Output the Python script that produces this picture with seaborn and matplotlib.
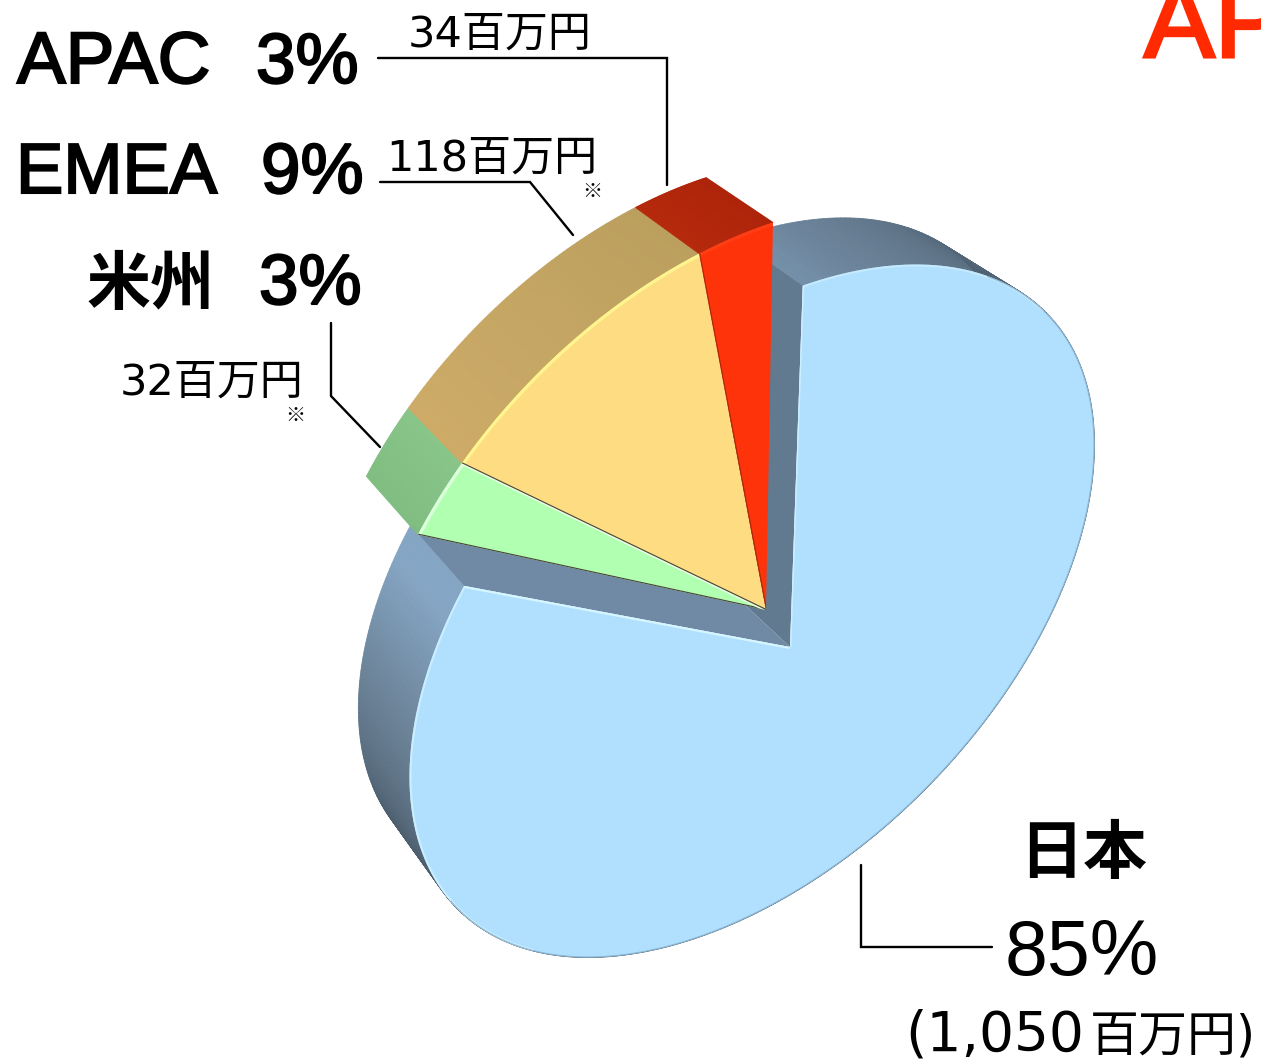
import numpy as np
import seaborn as sns
import matplotlib.pyplot as plt
import matplotlib.patheffects as pe
from matplotlib.colors import to_rgb
from matplotlib.patches import Polygon

# chart values (million yen)
regions = ["日本", "米州", "EMEA", "APAC"]
amounts = [1050, 32, 118, 34]
pct_labels = ["85%", "3%", "9%", "3%"]
amount_labels = ["(1,050百万円)", "32百万円", "118百万円", "34百万円"]

TOP_COLORS = sns.color_palette(["#b1dffe", "#b1ffb1", "#fedc82", "#ff330a"])
CJK = ["DejaVu Sans", "Noto Sans CJK JP"]
LATIN = ["Liberation Sans", "Noto Sans CJK JP"]

# ellipse of the top face in picture pixels, shape matrix from its extents
SHAPE = np.array([[117306.0, -56855.0], [-56855.0, 120062.0]])
L = np.linalg.cholesky(SHAPE)
JAPAN_CENTER = np.array([752.0, 611.0])
JAPAN_APEX = np.array([790.0, 647.0])
JAPAN_CORNER = np.array([803.0, 279.0])
SLICE_CENTER = np.array([712.0, 555.0])
SLICE_SCALE = 1.012
SLICE_APEX = np.array([766.0, 610.0])
SLICE_CORNER = np.array([773.0, 222.0])
SLICE_SWEEP = 0.94  # foreshortening of the exploded slices
VANISH = np.array([-780.0, -820.0])
DEPTH = 0.957


def boost(pts, p):
    # projective map of the unit disc, sends the disc center to p
    size = np.hypot(*p)
    if size < 1e-9:
        return pts
    hat = p / size
    along = pts @ hat
    perp = pts - np.outer(along, hat)
    gamma = 1 / np.sqrt(1 - size**2)
    return (np.outer(along + size, hat) + perp / gamma) / (1 + size * along)[:, None]


class Disc:
    def __init__(self, center, scale, apex, corner):
        self.center = center
        self.basis = L * scale
        self.inv = np.linalg.inv(self.basis)
        self.p = self.inv @ (apex - center)
        self.apex = apex
        c = self.to_disc(corner)
        self.start = np.arctan2(c[1], c[0])

    def to_disc(self, pt):
        u = (self.inv @ (pt - self.center))[None, :]
        return boost(u, -self.p)[0]

    def arc(self, a, b, n=120):
        # a, b are pie fractions measured from this disc's start corner
        t = self.start + 2 * np.pi * np.linspace(a, b, n)
        u = boost(np.column_stack([np.cos(t), np.sin(t)]), self.p)
        return u @ self.basis.T + self.center


def extrude(pts):
    return VANISH + DEPTH * (pts - VANISH)


def blend(a, b, w):
    return tuple((1 - w) * np.array(to_rgb(a)) + w * np.array(to_rgb(b)))


def strips(ax, front, colors, zorder):
    back = extrude(front)
    for i in range(len(front) - 1):
        quad = [front[i], front[i + 1], back[i + 1], back[i]]
        ax.add_patch(Polygon(quad, closed=True, fc=colors[i], ec=colors[i], lw=0.6, zorder=zorder))


def face(ax, arc, apex, color, zorder):
    patch = Polygon(np.vstack([apex, arc]), closed=True, fc=color, ec="none", zorder=zorder)
    ax.add_patch(patch)
    return patch


def edge(ax, pts, color, patch, width, zorder, alpha=1.0):
    pts = np.asarray(pts)
    line, = ax.plot(pts[:, 0], pts[:, 1], color=color, lw=width, alpha=alpha,
                    solid_capstyle="butt", zorder=zorder)
    line.set_clip_path(patch)


def japan_side_colors(arc):
    phi = np.degrees(np.arctan2(arc[:, 1] - JAPAN_CENTER[1], arc[:, 0] - JAPAN_CENTER[0]))
    phi = np.where(phi < -95, phi + 360, phi)
    stops = [-90, -70, -45, 0, 115, 140, 160, 178, 230]
    cols = ["#7c9cb8", "#6a8197", "#4f6273", "#4c5f6e", "#3f4e5a", "#4d5f6f", "#6d8499", "#85a5c4", "#85a5c4"]
    rgb = np.array([to_rgb(c) for c in cols])
    return [tuple(np.interp(v, stops, rgb[:, k]) for k in range(3)) for v in phi]


def put(ax, x, y, s, size_px, family=LATIN, stroke=0.0, **kw):
    text = ax.text(x, y, s, fontsize=size_px * 0.72, family=family, va="baseline", zorder=20, **kw)
    if stroke:
        text.set_path_effects([pe.withStroke(linewidth=stroke, foreground=kw.get("color", "black"),
                                             joinstyle="miter")])
    return text


def leader(ax, xs, ys):
    ax.plot(xs, ys, color="black", lw=1.7, solid_joinstyle="miter", zorder=15)


sns.set_theme(style="white")
fig, ax = plt.subplots(figsize=(12.61, 10.61), dpi=100)
fig.subplots_adjust(left=0, right=1, bottom=0, top=1)
ax.set_xlim(0, 1261)
ax.set_ylim(1061, 0)
ax.set_axis_off()

fractions = np.array(amounts) / sum(amounts)
edges = np.concatenate([[0], np.cumsum(fractions)])

# Japan: big slice, sitting lower right
japan = Disc(JAPAN_CENTER, 1.0, JAPAN_APEX, JAPAN_CORNER)
arc = japan.arc(edges[0], edges[1], 400)
strips(ax, arc, japan_side_colors(arc), 1)
apex_b = extrude(JAPAN_APEX)
ax.add_patch(Polygon([arc[0], extrude(arc[0]), apex_b, JAPAN_APEX], closed=True, fc="#617a90", ec="none", zorder=2))
ax.add_patch(Polygon([arc[-1], extrude(arc[-1]), apex_b, JAPAN_APEX], closed=True, fc="#708aa5", ec="none", zorder=2))
top = face(ax, arc, JAPAN_APEX, TOP_COLORS[0], 3)
edge(ax, arc[300:], "#d0f2ff", top, 3, 4, 0.8)
edge(ax, arc[:60], "#d0f2ff", top, 3, 4, 0.6)
edge(ax, arc[40:330], "#7ba6c6", top, 1.5, 4, 0.7)
edge(ax, [JAPAN_APEX, arc[-1]], "#d6f6ff", top, 3, 4)
edge(ax, [JAPAN_APEX, arc[0]], "#d6f6ff", top, 2, 4, 0.7)

# exploded slices, far ones first
wedges = Disc(SLICE_CENTER, SLICE_SCALE, SLICE_APEX, SLICE_CORNER)
shift = edges[-1]  # measured back from the corner of the red slice
side_pairs = [None, ("#80bd81", "#88c588"), ("#cdab67", "#bb9f5e"), ("#b5280b", "#ad240a")]
highlights = [None, "#dcffdc", "#fff58f", "#ff3d14"]
for i in [1, 2, 3]:
    a, b = (edges[i] - shift) * SLICE_SWEEP, (edges[i + 1] - shift) * SLICE_SWEEP
    arc_i = wedges.arc(a, b, 60)
    cols = [blend(*side_pairs[i], w) for w in np.linspace(0, 1, len(arc_i))]
    strips(ax, arc_i, cols, 5 + i)
    patch = face(ax, arc_i, SLICE_APEX, TOP_COLORS[i], 9 + i)
    edge(ax, arc_i, highlights[i], patch, 4.5, 13)
    edge(ax, [SLICE_APEX, arc_i[0]], "#4a4436" if i != 3 else "#a8280a", patch, 1.6, 14)
    if i == 1:
        edge(ax, [SLICE_APEX, arc_i[-1]], "#e4ffe4", patch, 2.4, 14)

# labels
put(ax, 17, 83, regions[3], 73, stroke=1.5, color="black")
put(ax, 256, 83, pct_labels[3], 71, stroke=1.5, color="black")
put(ax, 16, 193, regions[2], 71, stroke=1.5, color="black")
put(ax, 261, 193, pct_labels[2], 71, stroke=1.5, color="black")
put(ax, 87, 304, regions[1], 64, family=["Noto Sans CJK JP"], color="black", fontweight="bold")
put(ax, 259, 304, pct_labels[1], 71, stroke=1.5, color="black")
put(ax, 1019, 873, regions[0], 64, family=["Noto Sans CJK JP"], color="black", fontweight="bold")
put(ax, 1005, 975, pct_labels[0], 77, color="black")

put(ax, 408, 47, amount_labels[3], 43, family=CJK, color="black")
put(ax, 386, 171, amount_labels[2], 43, family=CJK, color="black")
put(ax, 120, 395, amount_labels[1], 43, family=CJK, color="black")
put(ax, 905, 1051, amount_labels[0][:6], 55, family=CJK, color="black")
put(ax, 1090, 1051, amount_labels[0][6:], 49, family=CJK, color="black")
put(ax, 582, 197, "※", 20, family=["Noto Sans CJK JP"], color="black")
put(ax, 285, 421, "※", 20, family=["Noto Sans CJK JP"], color="black")
put(ax, 1144, 57, "AP", 106, stroke=2.2, color="#ff2a00")

leader(ax, [378, 667, 667], [58, 58, 185])
leader(ax, [380, 530, 573], [182, 182, 235])
leader(ax, [331, 331, 380], [323, 396, 447])
leader(ax, [861, 861, 992], [865, 947, 947])

fig.savefig("out.png", dpi=100, facecolor="white")
